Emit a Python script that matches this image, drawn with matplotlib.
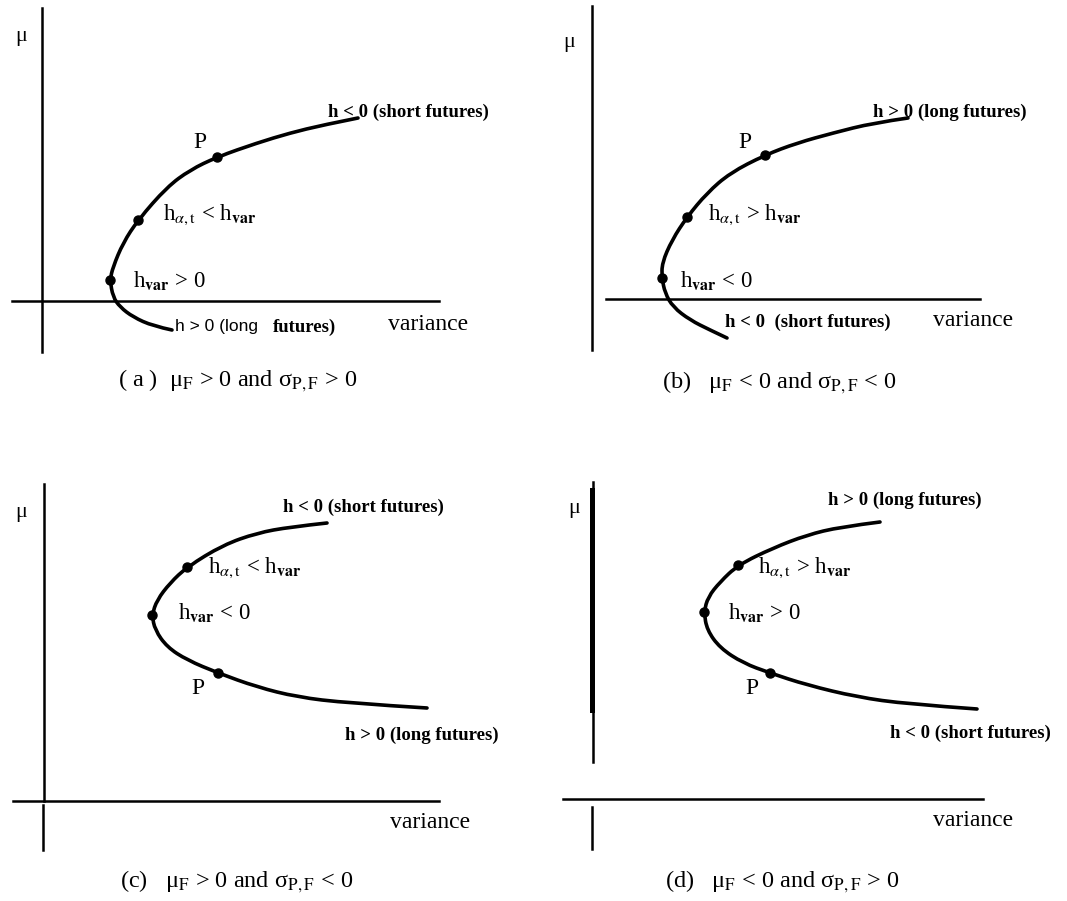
import matplotlib.pyplot as plt
from matplotlib.path import Path
from matplotlib.patches import PathPatch

plt.rcParams['font.family'] = 'Liberation Serif'
plt.rcParams['mathtext.fontset'] = 'stix'

W, H = 1067, 901

# ==========================================
# Frontier curves: variance (right) and mean (up),
# measured from where each panel's axes cross
var_a = [316, 281, 248, 215, 175, 148, 125, 96, 81, 71, 68, 71, 78, 91, 111, 130]
mu_a = [183, 176, 168, 158, 144, 131, 114, 81, 58, 34, 21, 4, -6, -16, -25, -29]
dot_var_a = [175, 96, 68]
dot_mu_a = [144, 81, 21]

var_b = [316, 281, 241, 205, 173, 138, 115, 95, 80, 70, 70, 73, 81, 98, 118, 135]
mu_b = [181, 176, 166, 156, 144, 126, 106, 82, 59, 36, 21, 6, -8, -21, -31, -39]
dot_var_b = [173, 95, 70]
dot_mu_b = [144, 82, 21]

var_c = [283, 246, 213, 179, 143, 126, 113, 108, 111, 123, 143, 174, 213, 253, 303, 383]
mu_c = [278, 274, 268, 256, 234, 218, 201, 186, 171, 154, 141, 128, 114, 104, 98, 93]
dot_var_c = [143, 108, 174]
dot_mu_c = [234, 186, 128]

var_d = [287, 247, 214, 180, 145, 127, 115, 111, 114, 127, 150, 177, 214, 264, 314, 384]
mu_d = [277, 272, 264, 251, 234, 217, 202, 187, 169, 151, 136, 126, 114, 102, 95, 90]
dot_var_d = [145, 111, 177]
dot_mu_d = [234, 187, 126]

fig = plt.figure(figsize=(W / 100, H / 100), dpi=100)


def panel(x0, y0, w, h, ox, oy):
    # one axes per quadrant, 1 unit = 1 pixel, origin where the axes cross
    ax = fig.add_axes([x0 / W, 1 - (y0 + h) / H, w / W, h / H])
    ax.set_xlim(x0 - ox, x0 + w - ox)
    ax.set_ylim(oy - (y0 + h), oy - y0)
    ax.axis('off')
    return ax


def txt(px, py, s, **kw):
    kw.setdefault('va', 'center')
    kw.setdefault('ha', 'left')
    fig.text(px / W, 1 - py / H, s, **kw)


def frontier(ax, xs, ys, dx, dy):
    # smooth stroke: read points used as quadratic bezier control points
    pts = list(zip(xs, ys))
    verts = [pts[0]]
    codes = [Path.MOVETO]
    for i in range(1, len(pts) - 1):
        nxt = pts[i + 1] if i == len(pts) - 2 else ((pts[i][0] + pts[i + 1][0]) / 2,
                                                    (pts[i][1] + pts[i + 1][1]) / 2)
        verts += [pts[i], nxt]
        codes += [Path.CURVE3, Path.CURVE3]
    ax.add_patch(PathPatch(Path(verts, codes), facecolor='none', edgecolor='black',
                           lw=2.6, capstyle='round', joinstyle='round'))
    ax.plot(dx, dy, 'o', color='black', ms=6.5)


h_at_lt = r'h$_{\alpha,\mathrm{t}}$ < h$_{\mathbf{var}}$'
h_at_gt = r'h$_{\alpha,\mathrm{t}}$ > h$_{\mathbf{var}}$'
h_var_gt = r'h$_{\mathbf{var}}$ > 0'
h_var_lt = r'h$_{\mathbf{var}}$ < 0'
axis_kw = dict(color='black', lw=1.8)
fs_lab = 16.5
fs_small = 13.5
fs_cap = 17.5

# ---------- (a)
ax = panel(0, 0, 533, 450, 42, 301)
ax.plot([0, 0], [293, -51], **axis_kw)
ax.plot([-30, 397], [0, 0], **axis_kw)
frontier(ax, var_a, mu_a, dot_var_a, dot_mu_a)
txt(15, 36, 'μ', fontsize=16)
txt(328, 112, 'h < 0 (short futures)', fontsize=fs_small, fontweight='bold')
txt(200, 142, 'P', fontsize=17, ha='center')
txt(163, 215, h_at_lt, fontsize=fs_lab)
txt(133, 280, h_var_gt, fontsize=fs_lab)
txt(175, 327, 'h > 0 (long', fontsize=12.5, family='Liberation Sans')
txt(273, 327, 'futures)', fontsize=fs_small, fontweight='bold')
txt(388, 325, 'variance', fontsize=17)
txt(118, 381, '( a )  μ$_\\mathrm{F}$ > 0 and σ$_\\mathrm{P,F}$ > 0', fontsize=fs_cap)

# ---------- (b)
ax = panel(533, 0, 534, 450, 592, 299)
ax.plot([0, 0], [293, -51], **axis_kw)
ax.plot([14, 388], [0, 0], **axis_kw)
frontier(ax, var_b, mu_b, dot_var_b, dot_mu_b)
txt(563, 43, 'μ', fontsize=16)
txt(873, 112, 'h > 0 (long futures)', fontsize=fs_small, fontweight='bold')
txt(745, 142, 'P', fontsize=17, ha='center')
txt(708, 215, h_at_gt, fontsize=fs_lab)
txt(680, 280, h_var_lt, fontsize=fs_lab)
txt(725, 322, 'h < 0  (short futures)', fontsize=fs_small, fontweight='bold')
txt(933, 320, 'variance', fontsize=17)
txt(662, 383, '(b)   μ$_\\mathrm{F}$ < 0 and σ$_\\mathrm{P,F}$ < 0', fontsize=fs_cap)

# ---------- (c)
ax = panel(0, 450, 533, 451, 44, 801)
ax.plot([0, 0], [317, 0], **axis_kw)
ax.plot([-1, -1], [-4, -49], **axis_kw)
ax.plot([-31, 395], [0, 0], **axis_kw)
frontier(ax, var_c, mu_c, dot_var_c, dot_mu_c)
txt(15, 512, 'μ', fontsize=16)
txt(283, 507, 'h < 0 (short futures)', fontsize=fs_small, fontweight='bold')
txt(208, 568, h_at_lt, fontsize=fs_lab)
txt(178, 613, h_var_lt, fontsize=fs_lab)
txt(198, 688, 'P', fontsize=17, ha='center')
txt(345, 735, 'h > 0 (long futures)', fontsize=fs_small, fontweight='bold')
txt(390, 823, 'variance', fontsize=17)
txt(120, 882, '(c)   μ$_\\mathrm{F}$ > 0 and σ$_\\mathrm{P,F}$ < 0', fontsize=fs_cap)

# ---------- (d)
ax = panel(533, 450, 534, 451, 593, 799)
ax.plot([0, 0], [317, 37], **axis_kw)
ax.plot([-1, -1], [309, 89], color='black', lw=3.6)
ax.plot([-1, -1], [-8, -50], **axis_kw)
ax.plot([-30, 390], [0, 0], **axis_kw)
frontier(ax, var_d, mu_d, dot_var_d, dot_mu_d)
txt(568, 508, 'μ', fontsize=16)
txt(828, 500, 'h > 0 (long futures)', fontsize=fs_small, fontweight='bold')
txt(758, 568, h_at_gt, fontsize=fs_lab)
txt(728, 612, h_var_gt, fontsize=fs_lab)
txt(752, 688, 'P', fontsize=17, ha='center')
txt(890, 733, 'h < 0 (short futures)', fontsize=fs_small, fontweight='bold')
txt(933, 820, 'variance', fontsize=17)
txt(665, 882, '(d)   μ$_\\mathrm{F}$ < 0 and σ$_\\mathrm{P,F}$ > 0', fontsize=fs_cap)

fig.savefig('out.png', dpi=100)
